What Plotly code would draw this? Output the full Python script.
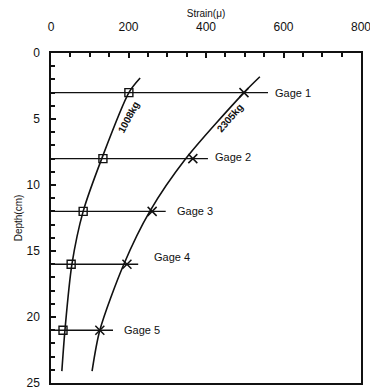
import plotly.graph_objects as go

# Gage depths (cm) and measured strains (micro-strain)
gage_names = ["Gage 1", "Gage 2", "Gage 3", "Gage 4", "Gage 5"]
gage_depth = [3, 8, 12, 16, 21]
strain_1008 = [201, 134, 83, 52, 31]
strain_2305 = [498, 366, 261, 196, 126]
gage_line_end = [560, 405, 296, 225, 160]

# Trend curves for the two loads
curve_depth_1008 = [1.9, 3, 8, 12, 16, 21, 24.1]
curve_strain_1008 = [230, 201, 131, 83, 54, 36, 28]
curve_depth_2305 = [1.8, 3, 8, 12, 16, 21, 24.1]
curve_strain_2305 = [539, 498, 348, 255, 188, 126, 106]

x_ticks = [0, 200, 400, 600, 800]
y_ticks = [0, 5, 10, 15, 20, 25]

FONT = "Liberation Sans, Arial, sans-serif"
INK = "#111111"

# Padded tick texts keep the labels clear of the frame
x_ticktext = [f"{v}<br> " for v in x_ticks]
y_ticktext = [f"{v}  " for v in y_ticks]

fig = go.Figure()

# Horizontal gage lines
for d, xe in zip(gage_depth, gage_line_end):
    fig.add_trace(go.Scatter(x=[0, xe], y=[d, d], mode="lines",
                             line=dict(color=INK, width=1.4),
                             showlegend=False, hoverinfo="skip"))

# Trend curves
for xs, ys in [(curve_strain_1008, curve_depth_1008),
               (curve_strain_2305, curve_depth_2305)]:
    fig.add_trace(go.Scatter(x=xs, y=ys, mode="lines",
                             line=dict(color=INK, width=1.6, shape="spline", smoothing=0.8),
                             showlegend=False, hoverinfo="skip"))

# Measured points
fig.add_trace(go.Scatter(x=strain_1008, y=gage_depth, mode="markers",
                         marker=dict(symbol="square-open", size=8, color=INK,
                                     line=dict(width=1.4)),
                         showlegend=False))
fig.add_trace(go.Scatter(x=strain_2305, y=gage_depth, mode="markers",
                         marker=dict(symbol="x-thin-open", size=9, color=INK,
                                     line=dict(width=1.5, color=INK)),
                         showlegend=False))

# Gage labels
label_dx = [14, 14, 24, 36, 22]
label_dy = [0, -0.15, 0, -0.55, 0]
for name, d, xe, dx, dy in zip(gage_names, gage_depth, gage_line_end, label_dx, label_dy):
    fig.add_annotation(x=xe + dx, y=d + dy, text=name, showarrow=False,
                       xanchor="left", yanchor="middle",
                       font=dict(family=FONT, size=11, color=INK))

# Load labels along the curves
fig.add_annotation(x=200, y=4.9, text="<b>1008kg</b>", showarrow=False, textangle=-62,
                   font=dict(family=FONT, size=10, color=INK))
fig.add_annotation(x=463, y=4.9, text="<b>2305kg</b>", showarrow=False, textangle=-49,
                   font=dict(family=FONT, size=10, color=INK))

fig.update_layout(
    width=370, height=390,
    margin=dict(l=51, r=9, t=53, b=7),
    paper_bgcolor="white", plot_bgcolor="white",
    font=dict(family=FONT, size=11, color=INK),
    xaxis=dict(
        side="top", range=[0, 800], tickmode="array",
        tickvals=x_ticks, ticktext=x_ticktext,
        ticks="inside", ticklen=5, tickwidth=1.5, tickcolor=INK,
        minor=dict(tickmode="linear", tick0=0, dtick=50, ticks="inside",
                   ticklen=4, tickcolor=INK, tickwidth=1.5, showgrid=False),
        showgrid=False, zeroline=False, automargin=False,
        showline=True, linecolor=INK, linewidth=2, mirror=True,
        ticklabeloverflow="allow",
        tickfont=dict(family=FONT, size=12, color=INK),
        title=dict(text="Strain(μ)", font=dict(family=FONT, size=10, color=INK), standoff=0),
    ),
    yaxis=dict(
        range=[25, 0], tickmode="array",
        tickvals=y_ticks, ticktext=y_ticktext,
        ticks="inside", ticklen=5, tickwidth=1.5, tickcolor=INK,
        minor=dict(tickmode="linear", tick0=0, dtick=1, ticks="inside",
                   ticklen=4, tickcolor=INK, tickwidth=1.5, showgrid=False),
        showgrid=False, zeroline=False, automargin=False,
        showline=True, linecolor=INK, linewidth=2, mirror=True,
        ticklabeloverflow="allow",
        tickfont=dict(family=FONT, size=12, color=INK),
        title=dict(text="Depth(cm)", font=dict(family=FONT, size=10, color=INK), standoff=2),
    ),
)

fig.write_html("out.html")
